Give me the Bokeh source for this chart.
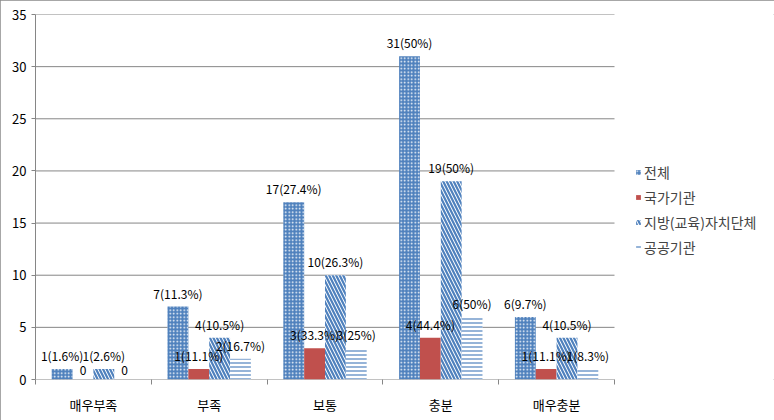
from bokeh.plotting import figure
from bokeh.models import (ColumnDataSource, Range1d, FixedTicker, Legend, LegendItem,
                          LabelSet, InlineStyleSheet)
from bokeh.embed import file_html
from bokeh.resources import INLINE
from bokeh.core.properties import value

categories = ["매우부족", "부족", "보통", "충분", "매우충분"]
series_names = ["전체", "국가기관", "지방(교육)자치단체", "공공기관"]
total = [1, 7, 17, 31, 6]
national = [0, 1, 3, 4, 1]
local = [1, 4, 10, 19, 4]
public = [0, 2, 3, 6, 1]
total_lbl = ["1(1.6%)", "7(11.3%)", "17(27.4%)", "31(50%)", "6(9.7%)"]
national_lbl = ["0", "1(11.1%)", "3(33.3%)", "4(44.4%)", "1(11.1%)"]
local_lbl = ["1(2.6%)", "4(10.5%)", "10(26.3%)", "19(50%)", "4(10.5%)"]
public_lbl = ["0", "2(16.7%)", "3(25%)", "6(50%)", "1(8.3%)"]
y_ticks = [0, 5, 10, 15, 20, 25, 30, 35]

BLUE = "#4F81BD"
RED = "#C0504D"
GRID = "#868686"
FONT = "Noto Sans CJK KR"

ncat = len(categories)
# frame spans to the right edge so the legend can live inside it
x_end = (774 - 35) / 115.8

p = figure(width=774, height=420, output_backend="svg", toolbar_location=None,
           x_range=Range1d(0, x_end), y_range=Range1d(0, 35),
           min_border_left=35, min_border_right=0, min_border_top=14, min_border_bottom=41)
p.stylesheets = [InlineStyleSheet(css=":host { outline: 1px solid #8a8a8a; outline-offset: -1px; }")]
p.outline_line_color = None
p.background_fill_color = "white"

# gridlines and x axis line, limited to the category area
p.segment(x0=[0] * len(y_ticks), x1=[ncat] * len(y_ticks), y0=y_ticks, y1=y_ticks,
          line_color=GRID, line_width=1)

series = [
    (total, total_lbl, dict(fill_color=BLUE, line_color=None, hatch_pattern="dot", hatch_color="white", hatch_scale=3.5, hatch_weight=1)),
    (national, national_lbl, dict(fill_color=RED, line_color=None)),
    (local, local_lbl, dict(fill_color="white", line_color=None, hatch_pattern="left_diagonal_line", hatch_color=BLUE, hatch_scale=7, hatch_weight=2.2)),
    (public, public_lbl, dict(fill_color="white", line_color=None, hatch_pattern="horizontal_line", hatch_color=BLUE, hatch_scale=4, hatch_weight=1.2)),
]
offsets = [-0.27, -0.09, 0.09, 0.27]
bw = 0.18
items = []
for i, (vals, lbls, style) in enumerate(series):
    xs = [j + 0.5 + offsets[i] for j in range(ncat)]
    src = ColumnDataSource(dict(x=xs, top=vals, lbl=lbls))
    r = p.vbar(x="x", top="top", width=bw, bottom=0, source=src, **style)
    items.append(LegendItem(label=series_names[i], renderers=[r]))
    labels = LabelSet(x="x", y="top", text="lbl", source=src, text_align="center",
                      text_baseline="bottom", y_offset=5, text_font_size="12px",
                      text_color="black", text_font=value(FONT))
    p.add_layout(labels)

# axes
p.xaxis.ticker = FixedTicker(ticks=[j + 0.5 for j in range(ncat)], minor_ticks=list(range(ncat + 1)))
p.xaxis.major_label_overrides = {j + 0.5: c for j, c in enumerate(categories)}
p.xaxis.major_tick_out = 0
p.xaxis.major_tick_in = 0
p.xaxis.minor_tick_out = 5
p.xaxis.minor_tick_in = 0
p.xaxis.minor_tick_line_color = GRID
p.xaxis.axis_line_color = None
p.xaxis.major_label_standoff = 10
p.xaxis.major_label_text_font = FONT
p.xaxis.major_label_text_font_size = "13px"
p.xaxis.major_label_text_color = "black"

p.yaxis.ticker = FixedTicker(ticks=y_ticks)
p.yaxis.minor_tick_line_color = None
p.yaxis.major_tick_out = 4
p.yaxis.major_tick_in = 0
p.yaxis.major_tick_line_color = GRID
p.yaxis.axis_line_color = GRID
p.yaxis.major_label_standoff = 5
p.yaxis.major_label_text_font = FONT
p.yaxis.major_label_text_font_size = "13px"
p.yaxis.major_label_text_color = "black"

p.xgrid.grid_line_color = None
p.ygrid.grid_line_color = None

legend = Legend(items=items, location=(600, 122), orientation="vertical",
                glyph_width=6, glyph_height=6, spacing=5, padding=0, margin=0,
                label_text_font=FONT, label_text_font_size="14px", label_standoff=3,
                border_line_color=None, background_fill_alpha=0)
p.add_layout(legend)

open("out.html", "w").write(file_html(p, INLINE))
